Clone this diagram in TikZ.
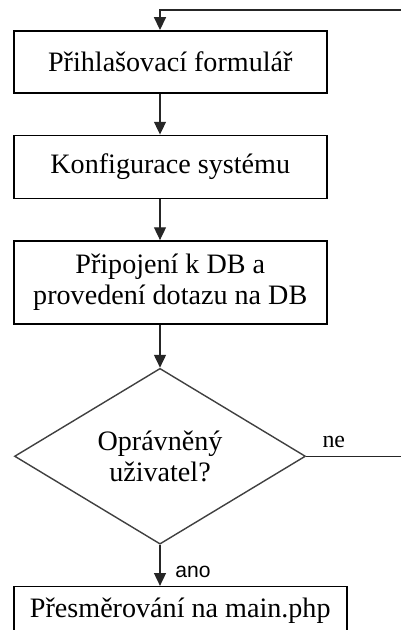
\documentclass[tikz,border=0pt]{standalone}
\usepackage{fontspec}
\setmainfont{Liberation Serif}
\setsansfont{Liberation Sans}
\usetikzlibrary{shapes.geometric, arrows.meta, positioning}

\begin{document}
\begin{tikzpicture}[
  box/.style={rectangle, draw=black, line width=1.1pt, minimum width=7.825cm,
              align=center, inner sep=0pt, font=\fontsize{20}{22}\selectfont},
  decision/.style={diamond, draw=black!75, line width=1pt, minimum width=7.275cm,
              minimum height=4.125cm, align=center, inner sep=0pt,
              font=\fontsize{20}{22}\selectfont},
  arr/.style={-{Triangle[length=3.2mm, width=3mm]}, line width=0.9pt, draw=black!85},
  lbl/.style={font=\fontsize{17}{19}\selectfont}
]

% ===== Page frame (the return line runs off the right edge) =====
\useasboundingbox (0,0) rectangle (10.025,-15.75);
\clip (0,0) rectangle (10.025,-15.75);

\coordinate (spine) at (4.0,0);
\coordinate (ret)   at (4.0,-0.25);

% ===== Steps =====
\node[box, minimum height=1.55cm, anchor=north west] (login) at (0.325,-0.75)
     {Přihlašovací formulář};
\node[box, minimum height=1.575cm, below=1.025cm of login.south west, anchor=north west] (config)
     {Konfigurace systému};
\node[box, minimum height=2.075cm, below=1.025cm of config.south west, anchor=north west] (dbquery)
     {Připojení k DB a\\provedení dotazu na DB};

% ===== Decision =====
\node[decision, anchor=north, yshift=-1.075cm] (auth) at (dbquery.south -| spine)
     {Oprávněný\\uživatel?};

\node[box, minimum width=8.325cm, text height=0.775cm, text depth=1.5cm,
      anchor=north west, yshift=-1.025cm] (redirect) at (auth.south -| login.west)
     {Přesměrování na main.php};

% ===== Arrows =====
\draw[arr] (login.south -| spine)   -- (config.north -| spine);
\draw[arr] (config.south -| spine)  -- (dbquery.north -| spine);
\draw[arr] (dbquery.south -| spine) -- (auth.north);
\draw[arr] (auth.south) -- (redirect.north -| auth.south)
     node[pos=0.66, right=0.25cm, font=\sffamily\fontsize{15}{17}\selectfont] (yes) {ano};
\draw[arr] (auth.east) -- ++(3,0) node[pos=0.23, above=0.09cm, lbl] (no) {ne}
     |- (ret) -- (login.north -| spine);

\end{tikzpicture}
\end{document}
